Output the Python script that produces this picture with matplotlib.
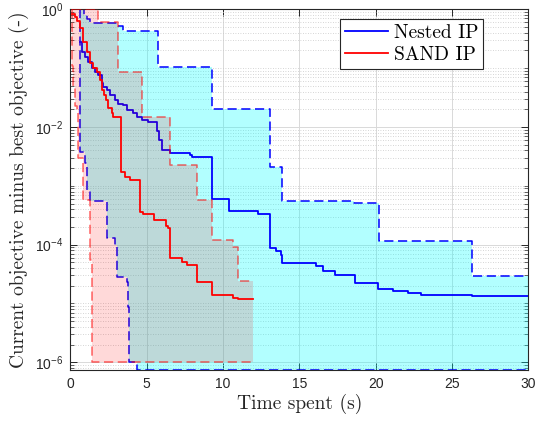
import numpy as np
import matplotlib
matplotlib.use("Agg")
import matplotlib.pyplot as plt
from matplotlib.ticker import FixedLocator, FuncFormatter, NullFormatter

# ---------------- data ----------------
y_floor = 7.4e-7          # values below the axis floor are drawn on the floor
nested_end = 30.0
sand_end = 12.0

# Nested IP: median (solid), max / min (dashed)
nested_t = [0.64, 0.75, 0.96, 1.18, 1.40, 1.62, 1.83, 2.06, 2.16, 2.38,
            2.60, 2.93, 3.14, 3.47, 3.69, 4.13, 4.35, 4.68, 5.10, 5.66,
            5.80, 5.99, 6.53, 7.84, 7.95, 9.26, 10.40, 12.30, 13.10, 13.50,
            13.78, 13.84, 16.10, 16.57, 17.33, 18.65, 20.17, 21.15, 22.13, 23.00,
            26.29]
nested_med = [0.282, 0.191, 0.155, 0.129, 0.100, 0.087, 0.076, 0.055, 0.048, 0.043,
              0.035, 0.029, 0.025, 0.0234, 0.0195, 0.017, 0.0148, 0.0132, 0.012, 0.0085,
              0.0060, 0.0041, 0.0036, 0.0033, 0.0031, 5.9e-4, 3.8e-4, 3.3e-4, 8.7e-5, 7.8e-5,
              6.6e-5, 4.8e-5, 4.3e-5, 3.5e-5, 3.0e-5, 2.2e-5, 1.74e-5, 1.62e-5, 1.51e-5, 1.41e-5,
              1.32e-5]
nested_max_t = [0.64, 0.90, 1.10, 1.29, 3.04, 3.45, 5.72, 9.30, 13.08, 13.84, 18.60, 20.20, 26.30]
nested_max = [1.0, 0.79, 0.68, 0.575, 0.525, 0.43, 0.105, 0.020, 2.1e-3, 5.5e-4, 5.2e-4, 1.15e-4, 2.9e-5]
nested_min_t = [0.62, 0.65, 0.97, 1.07, 1.29, 2.38, 2.93, 3.04, 3.69, 3.75, 3.85, 4.35]
nested_min = [1.0, 3.8e-3, 2.4e-3, 8.5e-4, 5.5e-4, 1.29e-4, 9.8e-5, 2.8e-5, 2.3e-5, 8.7e-6, 1.0e-6, y_floor]

# SAND IP: median (solid), max / min (dashed)
sand_t = [0.13, 0.31, 0.45, 0.64, 0.85, 1.07, 1.29, 1.51, 1.73, 1.94,
          2.06, 2.23, 2.32, 2.45, 2.49, 2.71, 2.82, 3.30, 3.58, 3.91,
          4.56, 4.78, 5.50, 6.25, 6.40, 6.53, 7.30, 7.62, 8.28, 9.26,
          10.67, 11.00]
sand_med = [0.83, 0.74, 0.63, 0.48, 0.28, 0.19, 0.12, 0.10, 0.087, 0.063,
            0.043, 0.035, 0.029, 0.025, 0.021, 0.017, 0.0148, 1.74e-3, 1.41e-3, 1.26e-3,
            3.6e-4, 3.3e-4, 2.6e-4, 2.1e-4, 1.95e-4, 5.9e-5, 5.1e-5, 4.5e-5, 2.3e-5, 1.38e-5,
            1.26e-5, 1.17e-5]
sand_max_t = [0.09, 1.83, 3.14, 4.68, 6.53, 8.28, 9.26, 10.67, 11.00]
sand_max = [1.0, 0.62, 0.087, 0.0148, 2.24e-3, 5.75e-4, 1.2e-4, 9.1e-5, 2.4e-5]
sand_min_t = [0.09, 0.10, 0.20, 0.31, 0.42, 0.52, 0.85, 1.29, 1.40]
sand_min = [1.0, 0.11, 0.05, 0.023, 0.02, 2.95e-3, 5.75e-4, 5.5e-5, 1.0e-6]

labels = ["Nested IP", "SAND IP"]
x_ticks = [0, 5, 10, 15, 20, 25, 30]
y_major = [1e-6, 1e-4, 1e-2, 1e0]


def step_xy(t, v, t_end):
    xs, ys = [], []
    for i in range(len(t)):
        t_next = t[i + 1] if i + 1 < len(t) else t_end
        xs += [t[i], t_next]
        ys += [v[i], v[i]]
    return np.array(xs), np.array(ys)


# ---------------- style ----------------
plt.rcParams["mathtext.fontset"] = "custom"
plt.rcParams["mathtext.rm"] = "Liberation Sans"
plt.rcParams["mathtext.it"] = "Liberation Sans:italic"
plt.rcParams["mathtext.bf"] = "Liberation Sans:bold"
plt.rcParams["font.family"] = ["Liberation Sans", "DejaVu Sans"]
serif = ["cmr10", "DejaVu Serif"]
axc = "#262626"

fig = plt.figure(figsize=(5.43, 4.23), dpi=100)
ax = fig.add_axes([70.3 / 543, 1 - 370 / 423, (528.3 - 70.3) / 543, (370 - 9.3) / 423])
ax.set_yscale("log")

# Nested IP
ux, uy = step_xy(nested_max_t, nested_max, nested_end)
lx, ly = step_xy(nested_min_t, nested_min, nested_end)
ax.fill(np.concatenate([ux, lx[::-1]]), np.concatenate([uy, ly[::-1]]),
        color="#00ffff", alpha=0.3, lw=0, zorder=1)
ax.plot(ux, uy, color="blue", lw=1.1, ls=(0, (6, 3)), zorder=2)
ax.plot(lx, ly, color="blue", lw=1.1, ls=(0, (6, 3)), zorder=2)
mx, my = step_xy(nested_t, nested_med, nested_end)
ax.plot(mx, my, color="blue", lw=1.3, zorder=2, label=labels[0])

# SAND IP
ux, uy = step_xy(sand_max_t, sand_max, sand_end)
lx, ly = step_xy(sand_min_t, sand_min, sand_end)
ax.fill(np.concatenate([ux, lx[::-1]]), np.concatenate([uy, ly[::-1]]),
        color="red", alpha=0.15, lw=0, zorder=3)
ax.plot(ux, uy, color="red", alpha=0.6, lw=1.1, ls=(0, (6, 3)), zorder=3.5)
ax.plot(lx, ly, color="red", alpha=0.6, lw=1.1, ls=(0, (6, 3)), zorder=3.5)
mx, my = step_xy(sand_t, sand_med, sand_end)
ax.plot(mx, my, color="red", lw=1.3, zorder=4, label=labels[1])

# axes
ax.set_xlim(0, 30)
ax.set_ylim(y_floor, 1.0)
ax.xaxis.set_major_locator(FixedLocator(x_ticks))
ax.yaxis.set_major_locator(FixedLocator(y_major))
minors = []
for n in range(-7, 0):
    for k in range(1, 10):
        val = k * 10.0 ** n
        if not any(abs(val - m) / m < 1e-9 for m in y_major):
            minors.append(val)
ax.yaxis.set_minor_locator(FixedLocator(minors))
ax.yaxis.set_minor_formatter(NullFormatter())
ax.yaxis.set_major_formatter(FuncFormatter(lambda v, p: r"$\mathregular{10^{%d}}$" % round(np.log10(v))))
ax.xaxis.set_major_formatter(FuncFormatter(lambda v, p: "%d" % v))

ax.tick_params(which="both", direction="in", top=True, right=True, color=axc,
               labelcolor=axc, labelsize=10)
ax.tick_params(which="major", length=5, width=0.7, pad=5)
ax.tick_params(which="minor", length=3, width=0.5)
for s in ax.spines.values():
    s.set_color(axc)
    s.set_linewidth(0.8)

ax.set_axisbelow(True)
ax.grid(which="major", color="#d9d9d9", lw=0.7, ls="-")
ax.grid(which="minor", axis="y", color="#c8c8c8", lw=0.6, ls=(0, (1, 2)))

ax.set_xlabel("Time spent (s)", fontfamily=serif, fontsize=14, color=axc, labelpad=2)
ax.set_ylabel("Current objective minus best objective (-)", fontfamily=serif,
              fontsize=14, color=axc, labelpad=4)

leg = ax.legend(loc="upper right", bbox_to_anchor=(0.901, 0.972), borderaxespad=0,
                prop={"family": serif, "size": 14}, fancybox=False, framealpha=1,
                edgecolor=axc, handlelength=2.2, handletextpad=0.3,
                borderpad=0.25, labelspacing=0.2)
leg.get_frame().set_linewidth(0.8)

fig.savefig("out.png", dpi=100)
